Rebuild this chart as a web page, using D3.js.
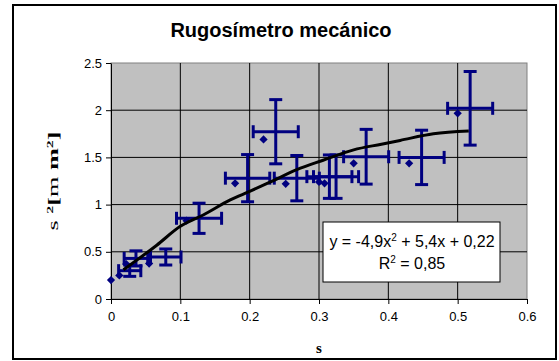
<!DOCTYPE html>
<html>
<head>
<meta charset="utf-8">
<script src="https://cdn.jsdelivr.net/npm/d3@7"></script>
<style>
  body { margin: 0; background: white; }
  svg { display: block; }
</style>
</head>
<body>
<svg id="chart" width="559" height="361"></svg>
<script>
//Measured points
var pointX = [0, 0.012, 0.022, 0.055, 0.109, 0.179, 0.22, 0.252, 0.300, 0.308, 0.350, 0.430, 0.500];
var pointY = [0.20, 0.25, 0.37, 0.375, 0.83, 1.225, 1.69, 1.22, 1.24, 1.225, 1.437, 1.437, 1.967];

//Error bar centres and half widths
var barX = [null, 0.027, 0.036, 0.079, 0.127, 0.197, 0.2376, 0.268, 0.315, 0.3246, 0.368, 0.448, 0.518];
var barY = [null, 0.30, 0.43, 0.445, 0.855, 1.28, 1.772, 1.28, 1.296, 1.296, 1.507, 1.50, 2.02];
var errX = [0, 0.016, 0.017, 0.022, 0.0325, 0.032, 0.0325, 0.0325, 0.0325, 0.0325, 0.0325, 0.0325, 0.0325];
var errY = [0, 0.06, 0.08, 0.085, 0.16, 0.25, 0.34, 0.24, 0.23, 0.23, 0.29, 0.288, 0.39];

//Trend line
var trendX = [0.018, 0.066, 0.100, 0.133, 0.172, 0.200, 0.230, 0.268, 0.306, 0.350, 0.390, 0.417, 0.465, 0.516];
var trendY = [0.31, 0.57, 0.77, 0.89, 1.05, 1.14, 1.24, 1.37, 1.47, 1.58, 1.64, 1.68, 1.75, 1.78];

//Ticks
var xTicks = [0, 0.1, 0.2, 0.3, 0.4, 0.5, 0.6];
var yTicks = [0, 0.5, 1, 1.5, 2, 2.5];

var title = "Rugosímetro mecánico";
var equation = ["y = -4,9x", "2", " + 5,4x + 0,22"];
var rSquared = ["R", "2", " = 0,85"];

//Layout
var dimensions = {
    width: 559,
    height: 361,
    plot: { left: 111, right: 527, top: 63, bottom: 299 }
};

var svg = d3.select("#chart");
var navy = "#000080";

//Frame
svg.append("rect")
   .attr("x", 13).attr("y", 5)
   .attr("width", 543).attr("height", 354)
   .style("fill", "white")
   .style("stroke", "black")
   .style("stroke-width", 2);

//Scales
var xScale = d3.scaleLinear()
               .domain([0, 0.6])
               .range([dimensions.plot.left, dimensions.plot.right]);
var yScale = d3.scaleLinear()
               .domain([0, 2.5])
               .range([dimensions.plot.bottom, dimensions.plot.top]);

//Plot area
svg.append("rect")
   .attr("x", xScale(0)).attr("y", yScale(2.5))
   .attr("width", xScale(0.6) - xScale(0))
   .attr("height", yScale(0) - yScale(2.5))
   .style("fill", "#c0c0c0")
   .style("stroke", "#808080")
   .style("stroke-width", 1);

//Grid
var grid = svg.append("g");
grid.selectAll(".vg")
    .data(xTicks.slice(1, -1))
    .enter().append("line")
    .attr("x1", function(d){ return xScale(d); })
    .attr("x2", function(d){ return xScale(d); })
    .attr("y1", yScale(0)).attr("y2", yScale(2.5))
    .style("stroke", "black");
grid.selectAll(".hg")
    .data(yTicks.slice(1, -1))
    .enter().append("line")
    .attr("x1", xScale(0)).attr("x2", xScale(0.6))
    .attr("y1", function(d){ return yScale(d); })
    .attr("y2", function(d){ return yScale(d); })
    .style("stroke", "black");

//Axes
var xAxis = svg.append("g")
               .attr("transform", "translate(0," + yScale(0) + ")")
               .call(d3.axisBottom(xScale).tickValues(xTicks).tickSize(5).tickSizeOuter(0).tickPadding(8)
                       .tickFormat(function(d){ return d === 0 ? "0" : d3.format(".1f")(d); }));
var yAxis = svg.append("g")
               .attr("transform", "translate(" + xScale(0) + ",0)")
               .call(d3.axisLeft(yScale).tickValues(yTicks).tickSize(5).tickSizeOuter(0).tickPadding(4)
                       .tickFormat(d3.format("")));
[xAxis, yAxis].forEach(function(a){
    a.select(".domain").style("stroke", "black");
    a.selectAll(".tick line").style("stroke", "black");
    a.selectAll("text")
     .style("font-family", "Liberation Sans, Arial, sans-serif")
     .style("font-size", "13px")
     .style("fill", "black");
});

//Error bars
var bars = d3.range(pointX.length).filter(function(i){ return barX[i] !== null; });
var cap = 6.5;
var eb = svg.append("g")
            .style("stroke", navy)
            .style("stroke-width", 3)
            .style("fill", "none");
bars.forEach(function(i){
    var cx = xScale(barX[i]), cy = yScale(barY[i]);
    var x0 = xScale(barX[i] - errX[i]), x1 = xScale(barX[i] + errX[i]);
    var y0 = yScale(barY[i] - errY[i]), y1 = yScale(barY[i] + errY[i]);
    eb.append("line").attr("x1", x0).attr("x2", x1).attr("y1", cy).attr("y2", cy);
    eb.append("line").attr("x1", x0).attr("x2", x0).attr("y1", cy - cap).attr("y2", cy + cap);
    eb.append("line").attr("x1", x1).attr("x2", x1).attr("y1", cy - cap).attr("y2", cy + cap);
    eb.append("line").attr("x1", cx).attr("x2", cx).attr("y1", y0).attr("y2", y1);
    eb.append("line").attr("x1", cx - cap).attr("x2", cx + cap).attr("y1", y0).attr("y2", y0);
    eb.append("line").attr("x1", cx - cap).attr("x2", cx + cap).attr("y1", y1).attr("y2", y1);
});

//Markers
svg.append("g")
   .selectAll("path")
   .data(d3.range(pointX.length))
   .enter().append("path")
   .attr("d", d3.symbol().type(d3.symbolSquare).size(34))
   .attr("transform", function(i){
       return "translate(" + xScale(pointX[i]) + "," + yScale(pointY[i]) + ") rotate(45)";
   })
   .style("fill", navy);

//Trend line
var trend = d3.line()
              .x(function(i){ return xScale(trendX[i]); })
              .y(function(i){ return yScale(trendY[i]); })
              .curve(d3.curveMonotoneX);
svg.append("path")
   .attr("d", trend(d3.range(trendX.length)))
   .style("fill", "none")
   .style("stroke", "black")
   .style("stroke-width", 3);

//Equation box
svg.append("rect")
   .attr("x", 323).attr("y", 222)
   .attr("width", 177).attr("height", 60)
   .style("fill", "white")
   .style("stroke", "black")
   .style("stroke-width", 1);
function supText(parts, x, y){
    var t = svg.append("text")
               .attr("x", x).attr("y", y)
               .attr("text-anchor", "middle")
               .style("font-family", "Liberation Sans, Arial, sans-serif")
               .style("font-size", "16px")
               .style("fill", "black");
    t.append("tspan").text(parts[0]);
    t.append("tspan").attr("dy", -6).style("font-size", "10px").text(parts[1]);
    t.append("tspan").attr("dy", 6).text(parts[2]);
}
supText(equation, 412, 247);
supText(rSquared, 412, 269);

//Title
svg.append("text")
   .attr("x", 281).attr("y", 37)
   .attr("text-anchor", "middle")
   .style("font-family", "Liberation Sans, Arial, sans-serif")
   .style("font-weight", "bold")
   .style("font-size", "20px")
   .text(title);

//X-axis title
svg.append("text")
   .attr("x", (xScale(0) + xScale(0.6)) / 2).attr("y", 353)
   .attr("text-anchor", "middle")
   .style("font-family", "Liberation Serif, Times New Roman, serif")
   .style("font-weight", "bold")
   .style("font-size", "15px")
   .text("s");

//Y-axis title
var yt = svg.append("text")
            .attr("transform", "translate(58,181) rotate(-90) scale(1.75,1)")
            .attr("text-anchor", "middle")
            .style("font-family", "Liberation Serif, Times New Roman, serif")
            .style("font-size", "15px")
            .style("fill", "black");
yt.append("tspan").text("s ");
yt.append("tspan").style("font-weight", "bold").style("font-size", "9px").attr("dy", -5).text("2");
yt.append("tspan").style("font-weight", "bold").attr("dy", 5).text("[");
yt.append("tspan").text("m ");
yt.append("tspan").style("font-weight", "bold").text("m");
yt.append("tspan").style("font-weight", "bold").style("font-size", "9px").attr("dy", -5).text("2");
yt.append("tspan").style("font-weight", "bold").attr("dy", 5).text("]");
</script>
</body>
</html>
